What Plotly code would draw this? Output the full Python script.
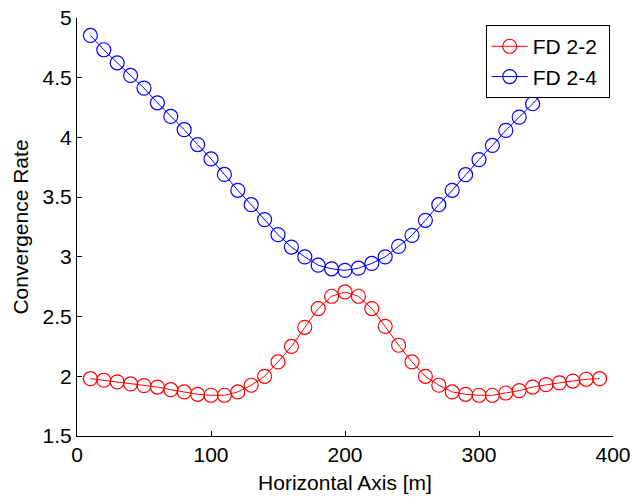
import plotly.graph_objects as go

x_vals = [10, 20, 30, 40, 50, 60, 70, 80, 90, 100, 110, 120, 130, 140, 150, 160, 170, 180, 190, 200,
          210, 220, 230, 240, 250, 260, 270, 280, 290, 300, 310, 320, 330, 340, 350, 360, 370, 380, 390]

fd22 = [1.98, 1.967, 1.953, 1.936, 1.922, 1.91, 1.888, 1.869, 1.849, 1.841, 1.841, 1.869, 1.925, 2.0,
        2.12, 2.25, 2.41, 2.567, 2.67, 2.706,
        2.67, 2.567, 2.418, 2.26, 2.12, 2.0, 1.925, 1.869, 1.849, 1.841, 1.841, 1.86, 1.88, 1.91,
        1.93, 1.945, 1.96, 1.975, 1.98]

fd24 = [4.854, 4.734, 4.625, 4.519, 4.413, 4.29, 4.176, 4.065, 3.94, 3.82, 3.69, 3.557, 3.437, 3.312,
        3.186, 3.082, 3.0, 2.93, 2.9, 2.887,
        2.905, 2.945, 3.0, 3.088, 3.18, 3.306, 3.437, 3.557, 3.688, 3.814, 3.933, 4.059, 4.17, 4.282,
        4.394, 4.52, 4.625, 4.734, 4.854]

series_names = ["FD 2-2", "FD 2-4"]
x_ticks = [0, 100, 200, 300, 400]
y_ticks = [1.5, 2, 2.5, 3, 3.5, 4, 4.5, 5]
y_tick_text = ["1.5", "2", "2.5", "3", "3.5", "4", "4.5", "5"]

FONT = "Arial, Liberation Sans, Helvetica, sans-serif"
FS = 21

fig = go.Figure()
for name, vals, col in [(series_names[0], fd22, "#ff0000"), (series_names[1], fd24, "#0000ff")]:
    fig.add_trace(go.Scatter(
        x=x_vals, y=vals, name=name + "\u00a0", mode="lines+markers",
        line=dict(color=col, width=1),
        marker=dict(symbol="circle-open", size=14, color=col, line=dict(width=1.2, color=col)),
    ))

fig.update_layout(
    width=634, height=497,
    margin=dict(l=77, r=21, t=18, b=61),
    paper_bgcolor="white", plot_bgcolor="white",
    font=dict(family=FONT, size=FS, color="black"),
    showlegend=True,
    legend=dict(
        x=0.7625, y=0.983, xanchor="left", yanchor="top",
        bgcolor="white", bordercolor="black", borderwidth=1,
        font=dict(family=FONT, size=FS, color="black"),
        itemwidth=36, tracegroupgap=0,
    ),
    xaxis=dict(
        range=[0, 400], tickvals=x_ticks, ticktext=[str(v) for v in x_ticks],
        showline=True, linecolor="black", linewidth=1, mirror=False,
        ticks="inside", ticklen=5, tickcolor="black",
        showgrid=False, zeroline=False, automargin=False,
        tickfont=dict(family=FONT, size=FS),
        title=dict(text="Horizontal Axis [m]", font=dict(family=FONT, size=FS), standoff=10),
    ),
    yaxis=dict(
        range=[1.5, 5], tickvals=y_ticks, ticktext=y_tick_text,
        showline=True, linecolor="black", linewidth=1, mirror=False,
        ticks="inside", ticklen=5, tickcolor="black",
        showgrid=False, zeroline=False, automargin=False,
        tickfont=dict(family=FONT, size=FS),
        title=dict(text="Convergence Rate", font=dict(family=FONT, size=FS), standoff=8),
    ),
)

fig.write_html("out.html", config={"displayModeBar": False},
               post_script="document.body.style.margin='0';")
